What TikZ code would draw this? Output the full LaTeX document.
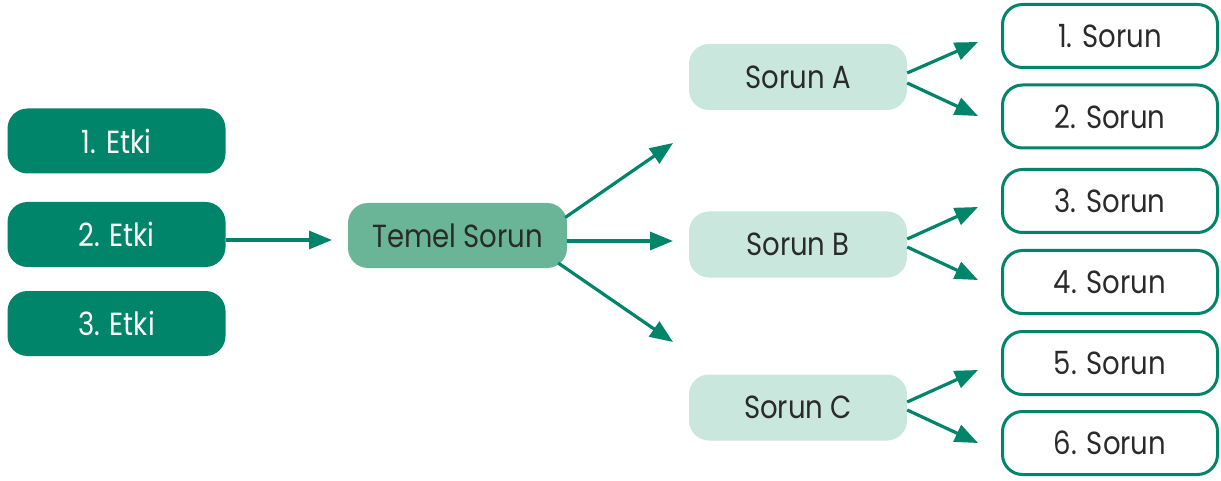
\documentclass[tikz,border=0pt]{standalone}
\usepackage{fontspec}
\setmainfont[FakeStretch=0.86]{Poppins}
\usetikzlibrary{arrows.meta}
\definecolor{deepgreen}{HTML}{00846A}
\definecolor{midgreen}{HTML}{6AB598}
\definecolor{palegreen}{HTML}{C9E7DD}
\definecolor{inkgray}{HTML}{2A2A2A}
\tikzset{
  box/.style={rounded corners=20pt, inner sep=0pt, minimum width=218pt, minimum height=65pt,
    font=\fontsize{32}{32}\selectfont},
  effect/.style={box, fill=deepgreen, text=white},
  core/.style={box, fill=midgreen, minimum width=219pt, text=inkgray},
  branch/.style={box, fill=palegreen, minimum height=66pt, text=inkgray},
  leaf/.style={box, draw=deepgreen, line width=3pt, fill=white, minimum width=215pt,
    minimum height=63pt, text=inkgray},
  link/.style={draw=deepgreen, line width=3.2pt, -{Triangle[length=23pt,width=18pt]}}
}
\begin{document}
\begin{tikzpicture}[x=1pt, y=-1pt]
\useasboundingbox (0,0) rectangle (1221,481);

% causes
\node[effect] (e1) at (116.5,141) {1. Etki};
\node[effect] (e2) at (116.5,234.5) {2. Etki};
\node[effect] (e3) at (116.5,323.5) {3. Etki};

% core problem
\node[core] (tem) at (457.5,235.5) {Temel Sorun};

% sub problems
\node[branch] (sa) at (798,77) {Sorun A};
\node[branch] (sb) at (798,244.5) {Sorun B};
\node[branch] (sc) at (798,407.5) {Sorun C};

% detailed problems
\node[leaf] (p1) at (1110,36) {1. Sorun};
\node[leaf] (p2) at (1110,116.5) {2. Sorun};
\node[leaf] (p3) at (1110,201) {3. Sorun};
\node[leaf] (p4) at (1110,282) {4. Sorun};
\node[leaf] (p5) at (1110,363) {5. Sorun};
\node[leaf] (p6) at (1110,443) {6. Sorun};

% free arrow ends
\coordinate (tin) at (332,240);
\coordinate (t1) at (673,143);
\coordinate (t2) at (673,241);
\coordinate (t3) at (673,342);
\coordinate (a1) at (978,42);
\coordinate (a2) at (978,116);
\coordinate (b1) at (978,207);
\coordinate (b2) at (978,280);
\coordinate (c1) at (978,370);
\coordinate (c2) at (978,443);

% arrows
\draw[link] ([yshift=-5.5pt]e2.east) -- (tin);
\draw[link] ([xshift=-2pt,yshift=18pt]tem.east) -- (t1);
\draw[link] ([yshift=-5.5pt]tem.east) -- (t2);
\draw[link] ([xshift=-9pt,yshift=-27.5pt]tem.east) -- (t3);
\draw[link] ([yshift=4pt]sa.east) -- (a1);
\draw[link] ([yshift=-6pt]sa.east) -- (a2);
\draw[link] ([yshift=5.5pt]sb.east) -- (b1);
\draw[link] ([yshift=-2.5pt]sb.east) -- (b2);
\draw[link] ([yshift=5.5pt]sc.east) -- (c1);
\draw[link] ([yshift=-2.5pt]sc.east) -- (c2);
\end{tikzpicture}
\end{document}
